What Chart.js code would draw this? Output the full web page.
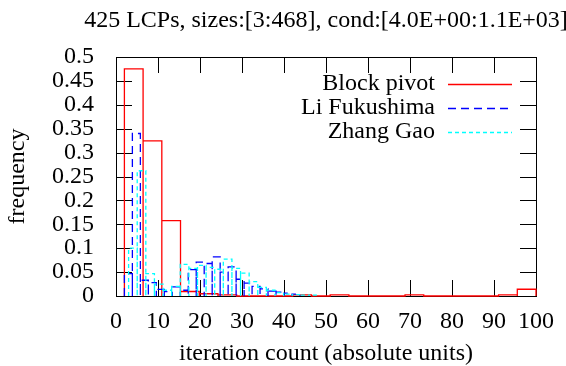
<!DOCTYPE html>
<html>
<head>
<meta charset="utf-8">
<script src="https://cdn.jsdelivr.net/npm/chart.js@4/dist/chart.umd.min.js"></script>
<style>
  html, body { margin: 0; padding: 0; background: #fff; }
</style>
</head>
<body>
<canvas id="hist" width="566" height="366"></canvas>
<script>
// Bin edges and frequencies
const blockPivotEdges = [2, 6.45, 10.91, 15.36, 19.82, 24.27, 28.73, 33.18, 37.64, 42.09, 46.55,
  51, 55.45, 59.91, 64.36, 68.82, 73.27, 77.73, 82.18, 86.64, 91.09, 95.55, 100];
const blockPivotFreq = [0.4753, 0.3247, 0.1576, 0.0094, 0.0047, 0.0024, 0, 0, 0, 0.0024, 0,
  0.0024, 0, 0, 0, 0.0024, 0, 0, 0, 0, 0.0024, 0.0141];

const liFukushimaEdges = [2, 3.9, 5.8, 7.7, 9.6, 11.5, 13.4, 15.3, 17.2, 19.1, 21, 22.9,
  24.8, 26.7, 28.6, 30.5, 32.4, 34.3, 36.2, 38.1, 40, 41.9, 43.8];
const liFukushimaFreq = [0.047, 0.34, 0.033, 0.028, 0.014, 0.009, 0.019, 0.012, 0.055, 0.071,
  0.068, 0.082, 0.05, 0.061, 0.035, 0.027, 0.02, 0.015, 0.01, 0.008, 0.006, 0.004];

const zhangGaoEdges = [3, 5.05, 7.1, 9.15, 11.2, 13.25, 15.3, 17.35, 19.4, 21.45, 23.5, 25.55,
  27.6, 29.65, 31.7, 33.75, 35.8, 37.85, 39.9, 41.95, 44, 46.05, 48.1];
const zhangGaoFreq = [0.1, 0.262, 0.047, 0.025, 0.012, 0.02, 0.066, 0.058, 0.064, 0.06,
  0.056, 0.077, 0.058, 0.048, 0.03, 0.018, 0.012, 0.007, 0.004, 0.003, 0.002, 0.002];

const titleText = "425 LCPs, sizes:[3:468], cond:[4.0E+00:1.1E+03]";
const xLabel = "iteration count (absolute units)";
const yLabel = "frequency";

const FONT = '"Liberation Serif", "DejaVu Serif", serif';
const SIZE = 24;

// gnuplot "with boxes": every bin is a closed outline down to zero
function boxOutline(edges, freq) {
  const pts = [];
  for (let i = 0; i < freq.length; i++) {
    pts.push({ x: edges[i], y: 0 });
    pts.push({ x: edges[i], y: freq[i] });
    pts.push({ x: edges[i + 1], y: freq[i] });
    pts.push({ x: edges[i + 1], y: 0 });
  }
  return pts;
}

// frame + inward ticks on all four sides
const frame = {
  id: "frame",
  beforeDatasetsDraw(chart) {
    const { ctx, chartArea: a, scales } = chart;
    const tl = 16;
    ctx.save();
    ctx.strokeStyle = "#000";
    ctx.lineWidth = 1;
    ctx.beginPath();
    scales.x.ticks.forEach((t) => {
      const px = Math.round(scales.x.getPixelForValue(t.value)) + 0.5;
      ctx.moveTo(px, a.bottom);
      ctx.lineTo(px, a.bottom - tl);
      ctx.moveTo(px, a.top);
      ctx.lineTo(px, a.top + tl);
    });
    scales.y.ticks.forEach((t) => {
      const py = Math.round(scales.y.getPixelForValue(t.value)) + 0.5;
      ctx.moveTo(a.left, py);
      ctx.lineTo(a.left + tl, py);
      ctx.moveTo(a.right, py);
      ctx.lineTo(a.right - tl, py);
    });
    ctx.stroke();
    ctx.strokeRect(a.left + 0.5, a.top + 0.5, a.right - a.left, a.bottom - a.top);
    ctx.restore();
  },
};

// title centred over the plot, legend right-aligned inside it
const annotations = {
  id: "annotations",
  afterDatasetsDraw(chart) {
    const { ctx, chartArea: a } = chart;
    ctx.save();
    ctx.fillStyle = "#000";
    ctx.font = SIZE + "px " + FONT;
    ctx.textAlign = "center";
    ctx.textBaseline = "alphabetic";
    ctx.fillText(titleText, (a.left + a.right) / 2, 27);

    ctx.textAlign = "right";
    ctx.textBaseline = "middle";
    chart.data.datasets.forEach((ds, i) => {
      const y = a.top + 27 + i * 24;
      ctx.fillStyle = "#000";
      ctx.fillText(ds.label, a.right - 101, y);
      ctx.strokeStyle = ds.borderColor;
      ctx.lineWidth = ds.borderWidth;
      ctx.setLineDash(ds.borderDash || []);
      ctx.beginPath();
      ctx.moveTo(a.right - 88, Math.round(y) + 0.5);
      ctx.lineTo(a.right - 24, Math.round(y) + 0.5);
      ctx.stroke();
    });
    ctx.restore();
  },
};

new Chart(document.getElementById("hist"), {
  type: "line",
  data: {
    datasets: [
      {
        label: "Block pivot",
        data: boxOutline(blockPivotEdges, blockPivotFreq),
        borderColor: "#ff0000",
        borderWidth: 1.3,
        order: 3,
      },
      {
        label: "Li Fukushima",
        data: boxOutline(liFukushimaEdges, liFukushimaFreq),
        borderColor: "#0000ff",
        borderWidth: 1.3,
        borderDash: [8, 5],
        order: 2,
      },
      {
        label: "Zhang Gao",
        data: boxOutline(zhangGaoEdges, zhangGaoFreq),
        borderColor: "#00ffff",
        borderWidth: 1.3,
        borderDash: [4, 3],
        order: 1,
      },
    ],
  },
  options: {
    responsive: false,
    animation: false,
    clip: 3,
    layout: { padding: { top: 57, right: 30, left: 0, bottom: 0 } },
    elements: {
      point: { radius: 0 },
      line: { tension: 0, fill: false },
    },
    plugins: {
      legend: { display: false },
      tooltip: { enabled: false },
      title: { display: false },
    },
    scales: {
      x: {
        type: "linear",
        min: 0,
        max: 100,
        grid: { display: false },
        border: { display: false },
        ticks: {
          stepSize: 10,
          maxRotation: 0,
          autoSkip: false,
          padding: 3,
          color: "#000",
          font: { family: FONT, size: SIZE },
        },
        title: {
          display: true,
          text: xLabel,
          color: "#000",
          padding: { bottom: -2, top: 0 },
          font: { family: FONT, size: SIZE },
        },
        afterFit(scale) {
          scale.height = 70;
        },
      },
      y: {
        type: "linear",
        min: 0,
        max: 0.5,
        grid: { display: false },
        border: { display: false },
        ticks: {
          stepSize: 0.05,
          autoSkip: false,
          padding: 14,
          color: "#000",
          font: { family: FONT, size: SIZE },
          callback: (v) => +v.toFixed(2),
        },
        title: {
          display: true,
          text: yLabel,
          color: "#000",
          padding: { top: 3, bottom: 0 },
          font: { family: FONT, size: SIZE },
        },
        afterFit(scale) {
          scale.width = 116;
        },
      },
    },
  },
  plugins: [frame, annotations],
});
</script>
</body>
</html>
